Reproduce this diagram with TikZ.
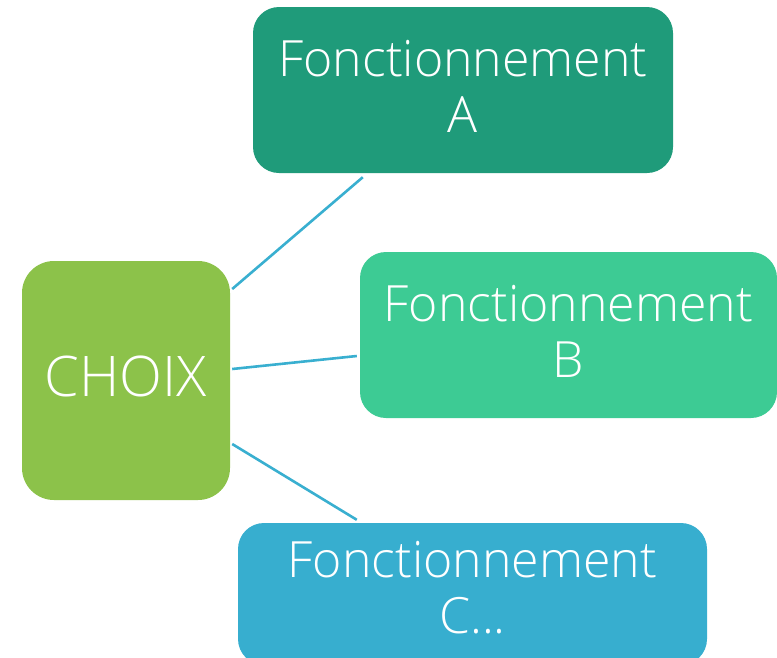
\documentclass[tikz,border=0pt]{standalone}
\usepackage{fontspec}
\setmainfont{Open Sans Light}
\usetikzlibrary{calc}
\definecolor{cgreen}{HTML}{8CC24A}
\definecolor{cA}{HTML}{1F9B7A}
\definecolor{cB}{HTML}{3DCB94}
\definecolor{cC}{HTML}{37AECF}
\definecolor{cline}{HTML}{39AFD0}
\tikzset{
  box/.style={rounded corners=26pt, inner sep=0pt},
  lbl/.style={inner sep=0pt, text=white, align=center,
    font=\fontsize{50}{56}\selectfont},
  conn/.style={draw=cline, line width=2.6pt}
}
\begin{document}
\begin{tikzpicture}[x=1pt,y=-1pt]
\useasboundingbox (0,0) rectangle (777,657);
\node[box, fill=cgreen, rounded corners=32pt, minimum width=208pt, minimum height=239pt] (choix) at (126,380.5) {};
\node[box, fill=cA, minimum width=420pt, minimum height=166pt] (a) at (463,90) {};
\node[box, fill=cB, minimum width=417pt, minimum height=166pt] (b) at (568.5,335) {};
\node[box, fill=cC, minimum width=469pt, minimum height=142pt] (c) at (472.5,594) {};
\node[lbl, font=\fontsize{56}{60}\selectfont] (tchoix) at ($(choix)+(0,-4)$) {CHOIX};
\node[lbl] (ta) at ($(a)+(0,-4)$) {Fonctionnement\\A};
\node[lbl] (tb) at ($(b)+(0,-4)$) {Fonctionnement\\B};
\node[lbl] (tc) at ($(c)+(0,-6)$) {Fonctionnement\\C...};
\draw[conn] ($(choix.east)+(2,-91.5)$) -- ($(a.south west)+(110,4)$);
\draw[conn] ($(choix.east)+(2,-11.5)$) -- ($(b.west)+(-3,21)$);
\draw[conn] ($(choix.east)+(2,63.5)$) -- ($(c.north west)+(119,-3)$);
\end{tikzpicture}
\end{document}
